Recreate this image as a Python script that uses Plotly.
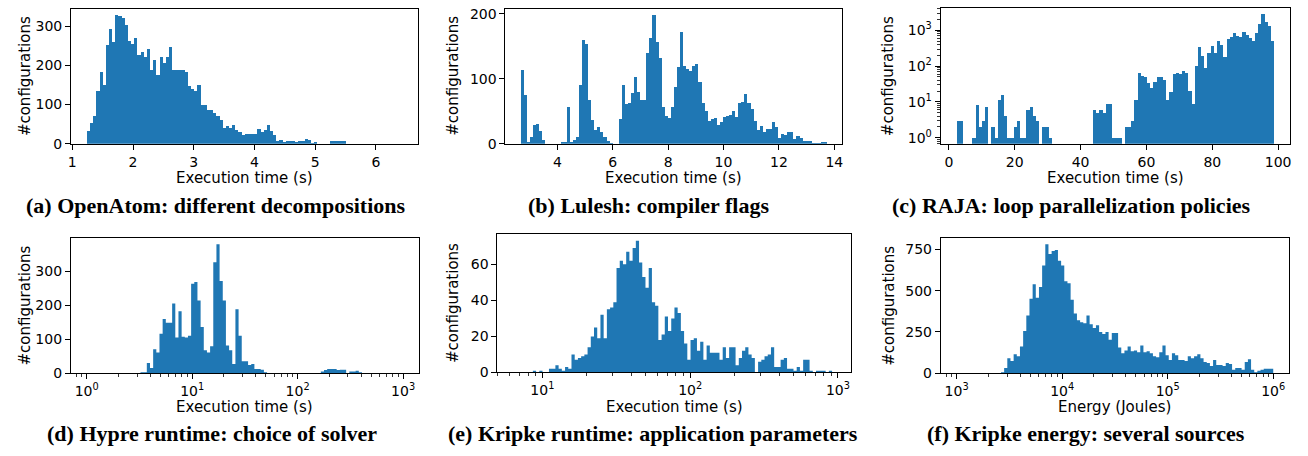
import math
import plotly.graph_objects as go

W, H = 1308, 456
BLUE = "#1f77b4"

# ---------------- data ----------------
# (a) OpenAtom: linear bins
a_start, a_width = 1.24, 0.052
a_counts = [33, 53, 70, 135, 184, 150, 252, 292, 259, 328,
            325, 320, 302, 261, 253, 269, 227, 234, 221, 241,
            188, 214, 174, 222, 205, 222, 246, 188, 188, 188,
            188, 184, 147, 139, 135, 149, 100, 100, 85, 85,
            79, 70, 60, 41, 46, 41, 48, 36, 30, 23,
            26, 26, 26, 26, 39, 31, 34, 48, 33, 23,
            8, 11, 5, 8, 8, 7, 4, 6, 6, 13,
            11, 2, 4, 0, 0, 0, 0, 6, 6, 8,
            7, 6, 0, 0, 0, 0, 0, 0, 0, 0,
            0, 0, 0, 0, 0, 0, 0, 0, 0, 0]

# (b) Lulesh: linear bins
b_start, b_width = 2.68, 0.1106
b_counts = [114, 75, 3, 11, 29, 30, 19, 6, 0, 0,
            0, 0, 0, 3, 3, 57, 3, 6, 10, 90,
            160, 154, 68, 36, 21, 26, 18, 10, 5, 1,
            0, 0, 38, 90, 61, 63, 78, 102, 80, 68,
            68, 139, 163, 198, 157, 132, 56, 42, 39, 56,
            87, 118, 172, 120, 115, 112, 120, 123, 95, 63,
            50, 35, 38, 39, 29, 33, 41, 42, 44, 50,
            41, 62, 65, 77, 62, 53, 35, 21, 27, 18,
            23, 23, 33, 26, 9, 15, 14, 18, 18, 8,
            12, 9, 5, 5, 5, 1, 1, 1, 3, 3]

# (c) RAJA: linear bins, log counts axis
c_start, c_width = 2.3, 0.965
c_counts = [3, 3, 0, 0, 0, 1, 8, 2, 3, 7,
            0, 2, 1, 11, 16, 4, 1, 1, 2, 3,
            1, 1, 6, 7, 4, 3, 0, 2, 2, 1,
            0, 0, 0, 0, 0, 0, 0, 0, 0, 0,
            0, 0, 0, 6, 5, 6, 5, 9, 9, 1,
            1, 1, 0, 2, 2, 3, 11, 66, 54, 51,
            33, 24, 37, 48, 51, 42, 11, 19, 62, 66,
            62, 75, 66, 20, 9, 102, 335, 190, 90, 230,
            360, 230, 490, 400, 180, 590, 640, 860, 700, 640,
            920, 760, 630, 490, 860, 1550, 2850, 1700, 1350, 490]

# (d) Hypre: log-spaced bins (log10 start, log10 step)
d_logstart, d_logstep = 0.0, 0.03
d_counts = [0, 0, 0, 0, 0, 0, 0, 0, 0, 0,
            0, 0, 0, 0, 0, 0, 0, 3, 3, 30,
            15, 70, 61, 116, 159, 148, 148, 205, 105, 182,
            107, 105, 110, 263, 268, 214, 136, 67, 61, 79,
            326, 379, 271, 214, 81, 67, 27, 188, 110, 35,
            35, 24, 27, 12, 12, 10, 3, 0, 0, 0,
            0, 0, 0, 0, 0, 0, 0, 0, 0, 0,
            0, 0, 0, 0, 5, 9, 12, 12, 12, 9,
            10, 10, 0, 5, 5, 7, 3, 0, 0, 0,
            0, 0, 0, 0, 0, 0, 0, 0, 0, 0]

# (e) Kripke runtime: log-spaced bins
e_logstart, e_logstep = 0.805, 0.02177
e_counts = [0, 0, 0, 0, 0, 0, 1, 0, 1, 0,
            0, 2, 2, 4, 2, 1, 3, 2, 10, 7,
            8, 9, 10, 14, 20, 25, 19, 32, 19, 35,
            36, 39, 58, 62, 60, 67, 62, 69, 73, 61,
            53, 47, 58, 39, 37, 18, 21, 31, 23, 30,
            36, 33, 23, 16, 7, 18, 19, 12, 17, 7,
            15, 11, 11, 11, 7, 14, 8, 14, 14, 4,
            8, 12, 14, 10, 8, 0, 6, 7, 9, 10,
            14, 3, 3, 7, 8, 2, 2, 1, 3, 1,
            7, 7, 1, 0, 1, 1, 1, 0, 1, 0]

# (f) Kripke energy: log-spaced bins
f_logstart, f_logstep = 3.0, 0.03
f_counts = [0, 0, 0, 0, 0, 0, 0, 0, 0, 0,
            0, 0, 0, 0, 6, 31, 91, 73, 114, 102,
            161, 256, 350, 451, 539, 457, 522, 652, 781, 722,
            740, 746, 681, 652, 557, 545, 445, 362, 321, 309,
            303, 350, 297, 274, 291, 250, 238, 250, 203, 244,
            244, 156, 120, 138, 161, 132, 138, 126, 167, 126,
            132, 120, 102, 96, 126, 167, 108, 79, 120, 108,
            79, 79, 73, 102, 91, 102, 114, 91, 67, 61,
            43, 79, 49, 49, 43, 61, 55, 20, 31, 31,
            20, 67, 85, 20, 6, 14, 20, 26, 26, 26]

captions = ["(a) OpenAtom: different decompositions",
            "(b) Lulesh: compiler flags",
            "(c) RAJA: loop parallelization policies",
            "(d) Hypre runtime: choice of solver",
            "(e) Kripke runtime: application parameters",
            "(f) Kripke energy: several sources"]
xlabels = ["Execution time (s)"] * 5 + ["Energy (Joules)"]
ylabel = "#configurations"

# ---------------- layout geometry (pixels) ----------------
# (left, right, top, bottom)
boxes = [(68.3, 416.7, 5.7, 144.3),
         (504.0, 842.0, 5.7, 144.3),
         (940.5, 1291.0, 5.0, 144.3),
         (68.1, 417.2, 240.7, 379.3),
         (496.0, 851.0, 237.0, 378.6),
         (940.7, 1290.0, 240.7, 379.3)]
caption_x = [213, 647, 1072, 210, 652, 1086]
caption_y = [207, 207, 207, 441, 441, 441]
ylabel_x = [22, 452, 888, 22, 452, 888]

TICKFONT = dict(family="DejaVu Sans", size=14, color="black")

fig = go.Figure()


def bar_trace(start, width, counts, idx):
    centers = [start + (i + 0.5) * width for i in range(len(counts))]
    ax = "" if idx == 1 else str(idx)
    return go.Bar(x=centers, y=counts, width=width, marker_color=BLUE,
                  marker_line_width=0, xaxis="x" + ax, yaxis="y" + ax,
                  showlegend=False, hoverinfo="skip")


def step_trace(logstart, logstep, counts, idx):
    edges = [10 ** (logstart + i * logstep) for i in range(len(counts) + 1)]
    ys = list(counts) + [counts[-1]]
    ax = str(idx)
    return go.Scatter(x=edges, y=ys, mode="lines", line=dict(width=0, shape="hv"),
                      fill="tozeroy", fillcolor=BLUE, xaxis="x" + ax, yaxis="y" + ax,
                      showlegend=False, hoverinfo="skip")


fig.add_trace(bar_trace(a_start, a_width, a_counts, 1))
fig.add_trace(bar_trace(b_start, b_width, b_counts, 2))
fig.add_trace(bar_trace(c_start, c_width, c_counts, 3))
fig.add_trace(step_trace(d_logstart, d_logstep, d_counts, 4))
fig.add_trace(step_trace(e_logstart, e_logstep, e_counts, 5))
fig.add_trace(step_trace(f_logstart, f_logstep, f_counts, 6))


def common_axis():
    return dict(showline=True, mirror=True, linecolor="black", linewidth=1,
                ticks="outside", ticklen=5, tickwidth=1, tickcolor="black",
                showgrid=False, zeroline=False, tickfont=TICKFONT)


def minor_log(lo, hi):
    vals = [m * 10 ** d for d in range(lo, hi) for m in range(2, 10)]
    return dict(ticks="outside", ticklen=3, tickwidth=0.8, tickcolor="black",
                tickvals=vals, showgrid=False)


def sup(k):
    return "10<sup>%d</sup>" % k


def lin_range(start, width, counts):
    lo, hi = start, start + width * len(counts)
    m = 0.05 * (hi - lo)
    return [lo - m, hi + m]


def log_range(ls, step, counts):
    lo, hi = ls, ls + step * len(counts)
    m = 0.05 * (hi - lo)
    return [lo - m, hi + m]


layout = {}
for i, (l, r, t, b) in enumerate(boxes):
    n = i + 1
    xs = "xaxis" if n == 1 else "xaxis%d" % n
    ys = "yaxis" if n == 1 else "yaxis%d" % n
    xa = common_axis()
    ya = common_axis()
    xa["domain"] = [l / W, r / W]
    ya["domain"] = [1 - b / H, 1 - t / H]
    xa["anchor"] = "y" if n == 1 else "y%d" % n
    ya["anchor"] = "x" if n == 1 else "x%d" % n
    layout[xs] = xa
    layout[ys] = ya

# (a)
layout["xaxis"].update(range=[0.98, 6.70], dtick=1, tick0=0)
layout["yaxis"].update(range=[0, 1.05 * max(a_counts)], dtick=100, tick0=0)
# (b)
layout["xaxis2"].update(range=lin_range(b_start, b_width, b_counts), dtick=2, tick0=0)
layout["yaxis2"].update(range=[0, 1.05 * max(b_counts)], dtick=100, tick0=0)
# (c)
layout["xaxis3"].update(range=lin_range(c_start, c_width, c_counts), dtick=20, tick0=0)
c_lo, c_hi = 0.0, math.log10(max(c_counts))
c_m = 0.05 * (c_hi - c_lo)
layout["yaxis3"].update(type="log", range=[c_lo - c_m, c_hi + c_m],
                        tickvals=[1, 10, 100, 1000], ticktext=[sup(k) for k in range(4)],
                        minor=minor_log(-1, 4))
# (d)
layout["xaxis4"].update(type="log", range=log_range(d_logstart, d_logstep, d_counts),
                        tickvals=[1, 10, 100, 1000], ticktext=[sup(k) for k in range(4)],
                        minor=minor_log(-1, 4))
layout["yaxis4"].update(range=[0, 1.05 * max(d_counts)], dtick=100, tick0=0)
# (e)
layout["xaxis5"].update(type="log", range=log_range(e_logstart, e_logstep, e_counts),
                        tickvals=[10, 100, 1000], ticktext=[sup(k) for k in range(1, 4)],
                        minor=minor_log(0, 4))
layout["yaxis5"].update(range=[0, 1.05 * max(e_counts)], dtick=20, tick0=0)
# (f)
layout["xaxis6"].update(type="log", range=log_range(f_logstart, f_logstep, f_counts),
                        tickvals=[1e3, 1e4, 1e5, 1e6], ticktext=[sup(k) for k in range(3, 7)],
                        minor=minor_log(2, 7))
layout["yaxis6"].update(range=[0, 1.05 * max(f_counts)], dtick=250, tick0=0)

annotations = []
for i, (l, r, t, b) in enumerate(boxes):
    annotations.append(dict(text=xlabels[i], x=(l + r) / 2 / W, y=1 - (b + 35) / H,
                            xref="paper", yref="paper", showarrow=False,
                            xanchor="center", yanchor="middle",
                            font=dict(family="DejaVu Sans", size=15, color="black")))
    annotations.append(dict(text=ylabel, x=ylabel_x[i] / W, y=1 - (t + b) / 2 / H,
                            xref="paper", yref="paper", showarrow=False, textangle=-90,
                            xanchor="center", yanchor="middle",
                            font=dict(family="DejaVu Sans", size=15, color="black")))
    annotations.append(dict(text="<b>%s</b>" % captions[i], x=caption_x[i] / W,
                            y=1 - caption_y[i] / H, xref="paper", yref="paper",
                            showarrow=False, xanchor="center", yanchor="middle",
                            font=dict(family="Liberation Serif", size=22, color="black")))

fig.update_layout(width=W, height=H, margin=dict(l=0, r=0, t=0, b=0),
                  paper_bgcolor="white", plot_bgcolor="white", hovermode=False,
                  barmode="overlay", bargap=0, annotations=annotations, **layout)

fig.write_html("out.html", config={"displayModeBar": False, "staticPlot": True},
               post_script="document.body.style.margin='0px';document.body.style.overflow='hidden';")
